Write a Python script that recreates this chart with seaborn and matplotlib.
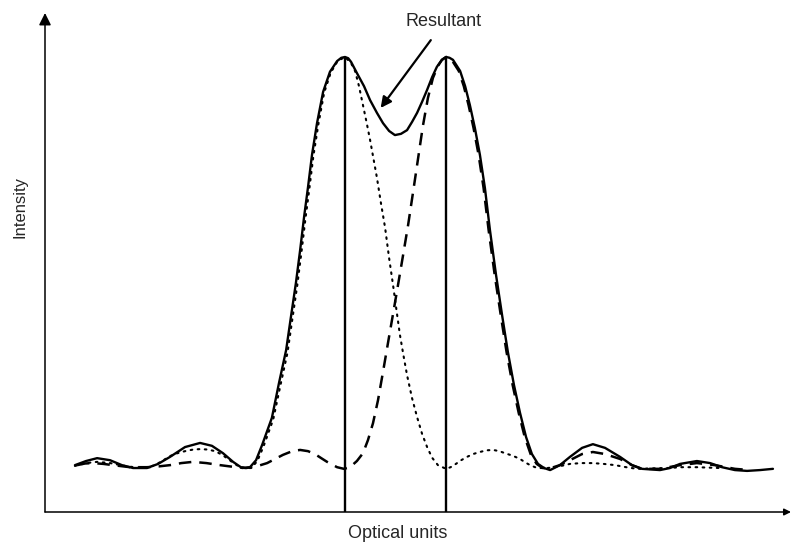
import matplotlib
matplotlib.use("Agg")
import matplotlib.pyplot as plt
import numpy as np
import pandas as pd
import seaborn as sns

# ---------------- data (optical units, relative intensity) ----------------
resultant_u = [-10.23, -9.81, -9.39, -8.90, -8.45, -8.03, -7.50, -7.08, -6.63, -6.06,
               -5.49, -5.04, -4.62, -4.24, -3.90, -3.60, -3.37, -3.14, -2.77, -2.50,
               -2.23, -2.05, -1.86, -1.70, -1.55, -1.40, -1.25, -1.06, -0.83, -0.57,
               -0.30, -0.14, 0.00, 0.12, 0.23, 0.45, 0.72, 0.95, 1.21, 1.44, 1.67, 1.89,
               2.12, 2.35, 2.54, 2.73, 2.92, 3.11, 3.30, 3.48, 3.67, 3.83,
               3.96, 4.09, 4.36, 4.55, 4.73, 4.92, 5.11, 5.30, 5.49, 5.72, 5.95,
               6.17, 6.40, 6.63, 6.86, 7.08, 7.31, 7.54, 7.77, 8.14, 8.52,
               8.98, 9.39, 9.85, 10.42, 10.87, 11.25, 11.93, 12.31, 12.69, 13.33,
               13.83, 14.28, 14.77, 15.23, 15.72, 16.21]
resultant_i = [0.007, 0.017, 0.024, 0.019, 0.007, 0.000, 0.000, 0.010, 0.027, 0.051,
               0.061, 0.054, 0.036, 0.015, 0.000, 0.002, 0.019, 0.056, 0.122, 0.207,
               0.287, 0.367, 0.450, 0.530, 0.611, 0.684, 0.762, 0.839, 0.915, 0.964,
               0.990, 0.998, 1.000, 0.997, 0.988, 0.961, 0.929, 0.895, 0.864, 0.839, 0.820, 0.810,
               0.813, 0.822, 0.842, 0.864, 0.891, 0.920, 0.951, 0.976, 0.993, 1.000,
               0.998, 0.993, 0.966, 0.929, 0.883, 0.827, 0.762, 0.681, 0.579, 0.470, 0.372,
               0.282, 0.202, 0.134, 0.075, 0.034, 0.010, 0.000, -0.005, 0.007, 0.027,
               0.049, 0.058, 0.049, 0.027, 0.007, -0.002, -0.005, 0.000, 0.010, 0.017,
               0.012, 0.002, -0.005, -0.007, -0.005, -0.002]

left_u = [-10.23, -9.81, -9.39, -8.90, -8.33, -7.77, -7.45, -7.20, -6.90, -6.63,
          -6.35, -6.06, -5.75, -5.49, -5.20, -4.92, -4.65, -4.43, -4.22, -4.05,
          -3.79, -3.55, -3.32, -3.09, -2.72, -2.45, -2.18, -2.00, -1.81, -1.65,
          -1.50, -1.35, -1.20, -1.01, -0.79, -0.54, -0.28, 0.00, 0.23, 0.38,
          0.53, 0.68, 0.82, 0.95, 1.08, 1.21, 1.36, 1.52, 1.67, 1.82,
          1.95, 2.08, 2.22, 2.35, 2.54, 2.73, 2.92, 3.11, 3.30, 3.52,
          3.83, 4.00, 4.20, 4.40, 4.62, 4.85, 5.11, 5.35, 5.61, 5.85,
          6.06, 6.35, 6.63, 6.82, 7.01, 7.20, 7.39, 7.67, 7.95, 8.25,
          8.52, 8.95, 9.39, 9.80, 10.23, 10.65, 11.06, 11.60, 12.20, 12.75,
          13.33, 13.75, 14.20]
left_i = [0.005, 0.012, 0.015, 0.012, 0.005, 0.000, 0.002, 0.007, 0.018, 0.029,
          0.036, 0.041, 0.045, 0.046, 0.045, 0.041, 0.032, 0.022, 0.012, 0.005,
          0.000, 0.000, 0.017, 0.052, 0.118, 0.200, 0.280, 0.360, 0.444, 0.525,
          0.606, 0.680, 0.758, 0.836, 0.913, 0.962, 0.990, 1.000, 0.985, 0.966,
          0.929, 0.883, 0.840, 0.798, 0.752, 0.706, 0.645, 0.584, 0.511, 0.445,
          0.384, 0.324, 0.272, 0.226, 0.170, 0.124, 0.083, 0.051, 0.025, 0.007,
          -0.002, 0.002, 0.010, 0.019, 0.027, 0.034, 0.039, 0.043, 0.044, 0.041,
          0.036, 0.030, 0.022, 0.014, 0.007, 0.002, 0.000, 0.000, 0.002, 0.006,
          0.010, 0.012, 0.012, 0.010, 0.007, 0.002, -0.002, -0.001, 0.000, 0.002,
          0.002, 0.001, 0.000]

right_u = [-10.15, -9.85, -9.55, -9.15, -8.79, -8.14, -7.50, -7.05, -6.63, -6.20,
           -5.76, -5.25, -4.73, -4.25, -3.75, -3.35, -2.95, -2.65, -2.35, -2.00,
           -1.70, -1.40, -1.14, -0.90, -0.68, -0.30, -0.04, 0.19, 0.45, 0.68,
           0.87, 1.06, 1.25, 1.44, 1.63, 1.82, 2.01, 2.20, 2.39, 2.58,
           2.77, 2.95, 3.14, 3.33, 3.52, 3.67, 3.83, 4.04, 4.31, 4.50,
           4.68, 4.87, 5.06, 5.25, 5.44, 5.67, 5.90, 6.12, 6.35, 6.58,
           6.81, 7.03, 7.26, 7.49, 7.80, 8.14, 8.52, 8.98, 9.39, 9.85,
           10.42, 10.87, 11.25, 11.93, 12.69, 13.33, 14.01, 14.77, 15.34]
right_i = [0.007, 0.011, 0.012, 0.010, 0.007, 0.002, 0.002, 0.004, 0.007, 0.012,
           0.015, 0.012, 0.007, 0.003, 0.000, 0.004, 0.012, 0.022, 0.032, 0.041,
           0.044, 0.041, 0.034, 0.024, 0.015, 0.002, -0.002, 0.002, 0.017, 0.036,
           0.068, 0.109, 0.165, 0.234, 0.305, 0.375, 0.446, 0.518, 0.591, 0.672,
           0.754, 0.832, 0.900, 0.949, 0.978, 0.993, 1.000, 0.993, 0.966, 0.929,
           0.883, 0.827, 0.762, 0.681, 0.579, 0.470, 0.372, 0.282, 0.202, 0.134,
           0.075, 0.034, 0.010, 0.000, 0.000, 0.007, 0.019, 0.034, 0.039, 0.034,
           0.022, 0.007, -0.002, -0.002, 0.007, 0.012, 0.007, -0.002, -0.005]

peak_positions = [0.00, 3.83]
peak_heights = [1.00, 1.00]
annotation_text = "Resultant"
annotation_tip = (1.35, 0.876)
annotation_tail = (3.25, 1.041)
annotation_label_pos = (3.75, 1.086)
x_label = "Optical units"
y_label = "Intensity"
x_range = (-11.364, 16.894)
y_range = (-0.107, 1.107)

resultant = pd.DataFrame({"u": resultant_u, "I": resultant_i})
left_img = pd.DataFrame({"u": left_u, "I": left_i})
right_img = pd.DataFrame({"u": right_u, "I": right_i})

# ---------------- style ----------------
sns.set_style("white")
plt.rcParams["font.family"] = ["Liberation Sans", "DejaVu Sans"]

fig = plt.figure(figsize=(7.92, 5.43), dpi=100)
ax = fig.add_axes([45 / 792, 31 / 543, 746 / 792, 499 / 543])
ax.set_xlim(*x_range)
ax.set_ylim(*y_range)

sns.lineplot(data=left_img, x="u", y="I", sort=False, estimator=None, ax=ax,
             color="black", lw=1.5, linestyle=(0, (0.8, 2.6)),
             dash_capstyle="round")
sns.lineplot(data=right_img, x="u", y="I", sort=False, estimator=None, ax=ax,
             color="black", lw=1.8, linestyle=(0, (5.0, 3.2)))
sns.lineplot(data=resultant, x="u", y="I", sort=False, estimator=None, ax=ax,
             color="black", lw=1.7, solid_joinstyle="round")

ax.vlines(peak_positions, y_range[0], peak_heights, color="black", lw=1.7)

# axes with arrowheads
for s in ax.spines.values():
    s.set_visible(False)
ax.annotate("", xy=(0, 1), xytext=(0, 0), xycoords="axes fraction",
            arrowprops=dict(arrowstyle="-|>", lw=1.1, color="black",
                            mutation_scale=18, shrinkA=0, shrinkB=0))
ax.annotate("", xy=(1, 0), xytext=(0, 0), xycoords="axes fraction",
            arrowprops=dict(arrowstyle="-|>", lw=1.1, color="black",
                            mutation_scale=10, shrinkA=0, shrinkB=0))

ax.set_xticks([])
ax.set_yticks([])
ax.set_xlabel("")
ax.set_ylabel("")

# Resultant annotation
ax.annotate("", xy=annotation_tip, xytext=annotation_tail,
            arrowprops=dict(arrowstyle="-|>", lw=1.6, color="black",
                            mutation_scale=16, shrinkA=0, shrinkB=0))
ax.text(annotation_label_pos[0], annotation_label_pos[1], annotation_text,
        ha="center", va="center", fontsize=13)

fig.text(398 / 792, 1 - 533 / 543, x_label, ha="center", va="center", fontsize=13)
fig.text(20 / 792, 1 - 207 / 543, y_label, ha="center", va="center",
         fontsize=12, rotation=90)

fig.savefig("out.png", dpi=100)
